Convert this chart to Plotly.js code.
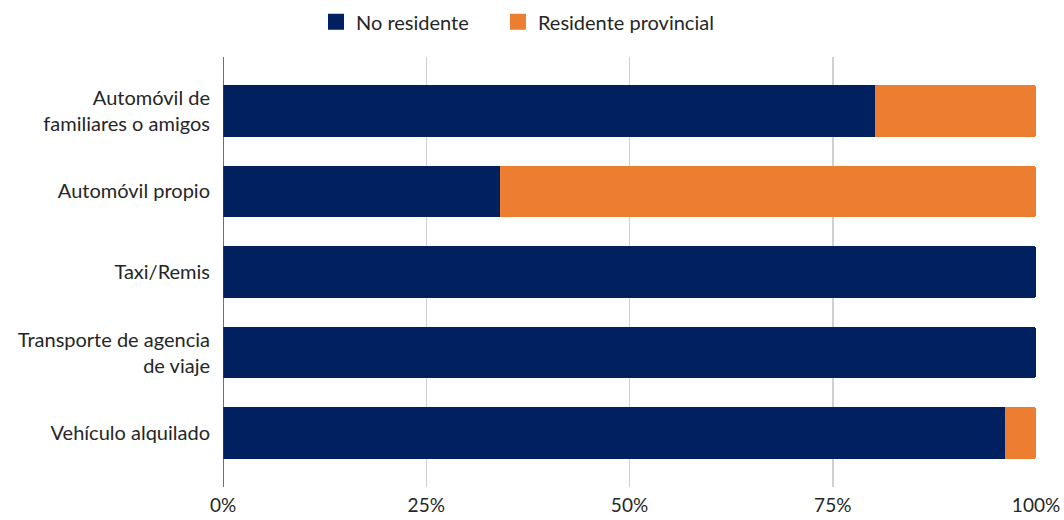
<!DOCTYPE html>
<html>
<head>
<meta charset="utf-8">
<script src="https://cdn.plot.ly/plotly-3.0.1.min.js"></script>
<style>html,body{margin:0;padding:0;background:#fff}#chart{width:1064px;height:520px}</style>
</head>
<body>
<div id="chart"></div>
<script>
const categories = ["Automóvil de<br>familiares o amigos", "Automóvil propio", "Taxi/Remis", "Transporte de agencia<br>de viaje", "Vehículo alquilado"];
const seriesNames = ["No residente", "Residente provincial"];
const noResidente = [80.2, 34.1, 100, 100, 96.2];
const residenteProvincial = [19.8, 65.9, 0, 0, 3.8];
const tickVals = [0, 25, 50, 75, 100];
const tickText = ["0%", "25%", "50%", "75%", "100%"];

const colors = ["#00205F", "#ED7D31"];
const font = {family: "Lato, 'Open Sans', sans-serif", size: 20, color: "#262626"};

const data = [
  {type: "bar", orientation: "h", name: seriesNames[0], y: categories, x: noResidente,
   marker: {color: colors[0]}, width: 0.645, showlegend: false},
  {type: "bar", orientation: "h", name: seriesNames[1], y: categories, x: residenteProvincial,
   marker: {color: colors[1]}, width: 0.645, showlegend: false},
  {type: "scatter", mode: "markers", name: seriesNames[0], x: [null], y: [null],
   marker: {color: colors[0], symbol: "square", size: 20}, showlegend: true, legend: "legend"},
  {type: "scatter", mode: "markers", name: seriesNames[1], x: [null], y: [null],
   marker: {color: colors[1], symbol: "square", size: 20}, showlegend: true, legend: "legend2"}
];

const legendFont = {family: font.family, size: 20, color: "#262626"};

const layout = {
  width: 1064, height: 520,
  margin: {l: 223, r: 28, t: 57, b: 33},
  barmode: "stack",
  barcornerradius: 3,
  font: font,
  paper_bgcolor: "#fff", plot_bgcolor: "#fff",
  showlegend: true,
  legend: {orientation: "h", x: 0.297, xref: "container", xanchor: "left", y: 0.958, yref: "container", yanchor: "middle",
           font: legendFont, itemwidth: 30},
  legend2: {orientation: "h", x: 0.468, xref: "container", xanchor: "left", y: 0.958, yref: "container", yanchor: "middle",
           font: legendFont, itemwidth: 30},
  xaxis: {range: [0, 100], tickvals: tickVals, ticktext: tickText, showgrid: true, gridcolor: "#D0D0D0", gridwidth: 1.5,
          zeroline: false, showline: false, ticks: "", ticklabelstandoff: 5, fixedrange: true,
          tickfont: {family: font.family, size: 19, color: "#262626"}},
  yaxis: {range: [4.67, -0.67], showgrid: false, zeroline: false, showline: false, ticks: "", ticklabelstandoff: 12, fixedrange: true},
  shapes: [{type: "line", xref: "x", yref: "paper", x0: 0, x1: 0, y0: 0, y1: 1, line: {color: "#404040", width: 1.5}}]
};

Plotly.newPlot("chart", data, layout, {displayModeBar: false, staticPlot: true});
</script>
</body>
</html>
